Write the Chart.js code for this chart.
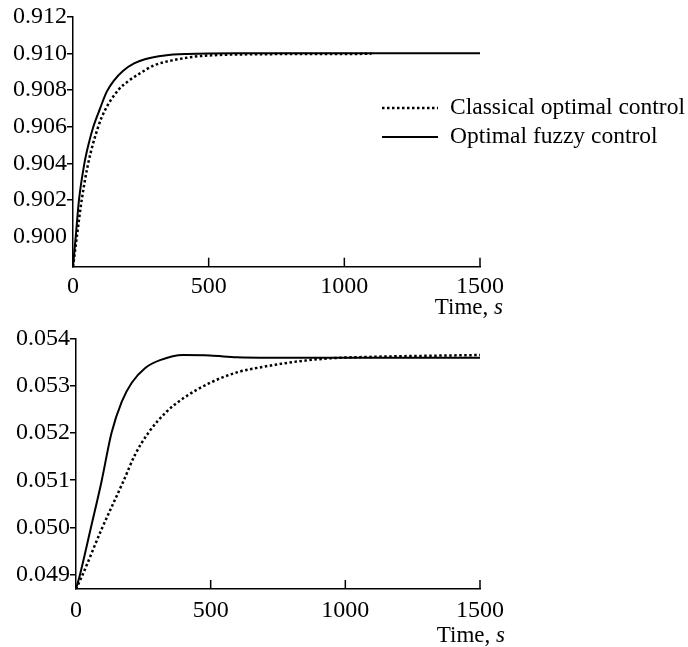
<!DOCTYPE html>
<html>
<head>
<meta charset="utf-8">
<script src="https://cdn.jsdelivr.net/npm/chart.js@4.4.0/dist/chart.umd.min.js"></script>
<style>
  body { margin: 0; background: #fff; }
  canvas { display: block; }
</style>
</head>
<body>
<canvas id="top" width="688" height="323"></canvas>
<canvas id="bottom" width="688" height="324"></canvas>
<script>
// tick labels
const xTicks = [0, 500, 1000, 1500]
const yTicksTop = [0.900, 0.902, 0.904, 0.906, 0.908, 0.910, 0.912]
const yTicksBottom = [0.049, 0.050, 0.051, 0.052, 0.053, 0.054]

// top panel
const tFuzzyTop = [0, 10, 22, 42, 60, 75, 100, 124, 150, 185, 225, 265, 338, 420, 600, 1000, 1500]
const fuzzyTop = [0.89837, 0.9000, 0.9020, 0.9040, 0.9052, 0.9060, 0.9070, 0.9079, 0.9085, 0.90905, 0.90945, 0.90968, 0.90988, 0.90996, 0.9100, 0.9100, 0.9100]
const tClassicalTop = [0, 14, 32, 56, 93, 118, 167, 205, 246, 300, 375, 450, 522, 700, 1100]
const classicalTop = [0.89837, 0.9000, 0.9020, 0.9040, 0.9060, 0.9069, 0.9080, 0.9085, 0.9089, 0.90935, 0.90964, 0.90982, 0.9099, 0.90995, 0.90997]

// bottom panel
const tFuzzyBottom = [0, 15, 54, 95, 132, 170, 207, 256, 312, 398, 498, 597, 720, 1000, 1500]
const fuzzyBottom = [0.04869, 0.0490, 0.04996, 0.05098, 0.05201, 0.05267, 0.05307, 0.05338, 0.05355, 0.05366, 0.05365, 0.05361, 0.05360, 0.05360, 0.05360]
const tClassicalBottom = [0, 25, 95, 176, 219, 269, 337, 398, 498, 597, 696, 819, 943, 1092, 1500]
const classicalBottom = [0.04869, 0.0490, 0.04996, 0.05098, 0.05154, 0.05201, 0.05246, 0.05274, 0.05307, 0.05329, 0.05341, 0.05352, 0.05359, 0.05362, 0.05366]

const labels = ['Classical optimal control', 'Optimal fuzzy control']

const FONT = '"Liberation Serif", "Times New Roman", serif'
const toPoints = (ts, vs) => ts.map((t, i) => ({x: t, y: vs[i]}))

// inward x ticks, axis title, legend
const extras = {
    id: 'extras',
    afterDraw(chart, args, opts) {
        const ctx = chart.ctx
        const x = chart.scales.x, y = chart.scales.y
        ctx.save()
        ctx.strokeStyle = '#000'
        ctx.lineWidth = 1.5
        xTicks.forEach(v => {
            if (v === 0) return
            const px = x.getPixelForValue(v)
            ctx.beginPath()
            ctx.moveTo(px, y.bottom)
            ctx.lineTo(px, y.bottom - 9)
            ctx.stroke()
        })

        ctx.fillStyle = '#000'
        ctx.textBaseline = 'middle'
        ctx.font = '23px ' + FONT
        const w1 = ctx.measureText('Time, ').width
        ctx.font = 'italic 23px ' + FONT
        const w2 = ctx.measureText('s').width
        const right = x.right + opts.titleDx
        const ty = y.bottom + opts.titleDy
        ctx.font = '23px ' + FONT
        ctx.fillText('Time, ', right - w1 - w2, ty)
        ctx.font = 'italic 23px ' + FONT
        ctx.fillText('s', right - w2, ty)

        if (opts.legend) {
            ctx.font = '23.5px ' + FONT
            chart.data.datasets.forEach((ds, i) => {
                const ly = opts.legend.y + i * opts.legend.gap
                ctx.beginPath()
                ctx.setLineDash(ds.borderDash || [])
                ctx.lineWidth = ds.borderWidth
                ctx.moveTo(opts.legend.x, ly)
                ctx.lineTo(opts.legend.x + 56, ly)
                ctx.stroke()
                ctx.setLineDash([])
                ctx.fillText(ds.label, opts.legend.x + 68, ly)
            })
        }
        ctx.restore()
    }
}

function makeChart(id, cfg) {
    return new Chart(document.getElementById(id), {
        type: 'scatter',
        data: {
            datasets: [
                {
                    label: labels[0],
                    data: toPoints(cfg.tc, cfg.vc),
                    showLine: true,
                    borderColor: '#000',
                    borderWidth: 2.5,
                    borderDash: [2.5, 2.5],
                    pointRadius: 0,
                    cubicInterpolationMode: 'monotone'
                },
                {
                    label: labels[1],
                    data: toPoints(cfg.tf, cfg.vf),
                    showLine: true,
                    borderColor: '#000',
                    borderWidth: 2,
                    pointRadius: 0,
                    cubicInterpolationMode: 'monotone'
                }
            ]
        },
        options: {
            responsive: false,
            animation: false,
            layout: {padding: {left: 0, top: cfg.padTop, right: 688 - cfg.right, bottom: 0}},
            plugins: {
                legend: {display: false},
                tooltip: {enabled: false},
                extras: {titleDx: cfg.titleDx, titleDy: cfg.titleDy, legend: cfg.legend}
            },
            scales: {
                x: {
                    type: 'linear',
                    min: 0, max: 1500,
                    afterBuildTicks: s => { s.ticks = xTicks.map(v => ({value: v})) },
                    afterFit: s => { s.height = cfg.xHeight },
                    grid: {display: false, drawTicks: false},
                    border: {color: '#000', width: 1.5},
                    ticks: {color: '#000', font: {family: FONT, size: 24}, padding: cfg.xPad, maxRotation: 0, callback: v => String(v)}
                },
                y: {
                    type: 'linear',
                    min: cfg.ymin, max: cfg.ymax,
                    afterBuildTicks: s => { s.ticks = cfg.yTicks.map(v => ({value: v})) },
                    afterFit: s => { s.width = cfg.left },
                    grid: {
                        drawOnChartArea: false, drawTicks: true, tickLength: 6, lineWidth: 1.5,
                        color: c => (cfg.hideTick !== undefined && c.tick && Math.abs(c.tick.value - cfg.hideTick) < 1e-9) ? 'rgba(0,0,0,0)' : '#000'
                    },
                    border: {color: '#000', width: 1.5},
                    ticks: {color: '#000', font: {family: FONT, size: 24}, padding: 0, callback: v => v.toFixed(3)}
                }
            }
        },
        plugins: [extras]
    })
}

makeChart('top', {
    tc: tClassicalTop, vc: classicalTop, tf: tFuzzyTop, vf: fuzzyTop,
    ymin: 0.89837, ymax: 0.912, yTicks: yTicksTop, hideTick: 0.900,
    left: 73, right: 480, padTop: 16.6, xHeight: 323 - 266.7, xPad: 6,
    titleDx: 23, titleDy: 41,
    legend: {x: 382, y: 108, gap: 29}
})

makeChart('bottom', {
    tc: tClassicalBottom, vc: classicalBottom, tf: tFuzzyBottom, vf: fuzzyBottom,
    ymin: 0.04869, ymax: 0.054, yTicks: yTicksBottom,
    left: 76, right: 480, padTop: 16, xHeight: 324 - 266, xPad: 7,
    titleDx: 25, titleDy: 47,
    legend: null
})
</script>
</body>
</html>
